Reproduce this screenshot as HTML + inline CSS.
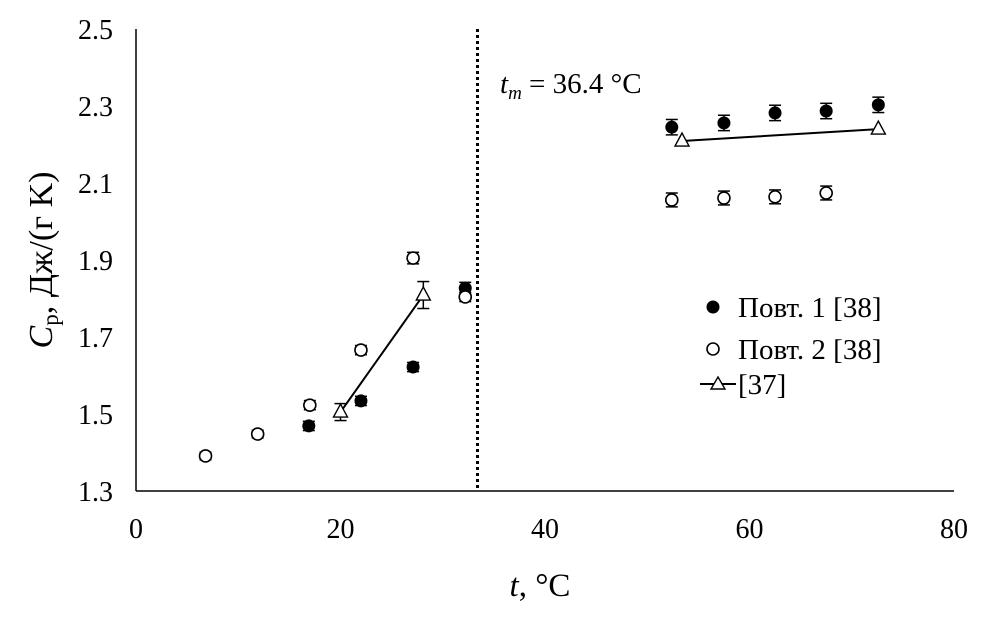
<!DOCTYPE html>
<html><head><meta charset="utf-8"><style>
body{margin:0;background:#fff}
svg{display:block;font-family:"Liberation Serif",serif}
</style></head><body>
<svg id="c" width="998" height="617">
<g id="axes"></g>
<g id="marks"></g>
<text x="500" y="93" font-size="29"><tspan font-style="italic">t</tspan><tspan font-style="italic" font-size="19" dy="6">m</tspan><tspan dy="-6"> = 36.4 °C</tspan></text>
<text x="540" y="596" font-size="33" text-anchor="middle"><tspan font-style="italic">t</tspan>, °C</text>
<text transform="translate(52,260) rotate(-90)" font-size="34" text-anchor="middle"><tspan font-style="italic">C</tspan><tspan font-size="23" dy="6">p</tspan><tspan dy="-6">, Дж/(г K)</tspan></text>
<g>
<circle cx="713" cy="307" r="6.5" fill="#000"/>
<text x="738" y="317" font-size="29">Повт. 1 [38]</text>
<circle cx="713" cy="349" r="6" fill="#fff" stroke="#000" stroke-width="1.6"/>
<text x="738" y="359" font-size="29">Повт. 2 [38]</text>
<line x1="700" y1="384" x2="736" y2="384" stroke="#000" stroke-width="2"/>
<polygon points="718,377 725,389 711,389" fill="#fff" stroke="#000" stroke-width="1.4"/>
<text x="738" y="394" font-size="29">[37]</text>
</g>
</svg>
<script>
const xTicks=[0,20,40,60,80];
const yTicks=[1.3,1.5,1.7,1.9,2.1,2.3,2.5];
const rep1T=[16.9,22.0,27.1,32.2,52.4,57.5,62.5,67.5,72.6];
const rep1V=[1.469,1.534,1.622,1.827,2.245,2.256,2.282,2.287,2.303];
const rep1E=[0.012,0.012,0.012,0.015,0.02,0.02,0.02,0.02,0.02];
const rep2T=[6.8,11.9,17.0,22.0,27.1,32.2,52.4,57.5,62.5,67.5];
const rep2V=[1.391,1.448,1.523,1.666,1.905,1.804,2.056,2.061,2.064,2.074];
const rep2E=[0.01,0.01,0.012,0.012,0.015,0.012,0.018,0.018,0.018,0.018];
const refT=[20.0,28.1];
const refV=[1.505,1.809];
const refE=[0.022,0.035];
const ref2T=[53.4,72.6];
const ref2V=[2.209,2.240];
const meltT=33.4;
const NS="http://www.w3.org/2000/svg";
const X=t=>136+t*10.225;
const Y=v=>29+(2.5-v)*385;
function mk(tag,attrs,parent){const e=document.createElementNS(NS,tag);for(const k in attrs)e.setAttribute(k,attrs[k]);parent.appendChild(e);return e;}
const ax=document.getElementById('axes'),mg=document.getElementById('marks');
let l=mk('line',{x1:136,y1:29,x2:136,y2:491,stroke:'#000','stroke-width':1.5},ax);


l=mk('line',{x1:136,y1:491,x2:954,y2:491,stroke:'#000','stroke-width':1.5},ax);


xTicks.forEach(t=>{const e=mk('text',{x:X(t),y:538,'font-size':28,'text-anchor':'middle'},ax);e.textContent=t;

});
yTicks.forEach(v=>{const e=mk('text',{x:113,y:Y(v)+10,'font-size':28,'text-anchor':'end'},ax);e.textContent=v.toFixed(1);

});
l=mk('line',{x1:X(meltT),y1:29,x2:X(meltT),y2:491,stroke:'#000','stroke-width':3,'stroke-dasharray':'3,3'},ax);


function err(t,v,e){const x=X(t),y1=Y(v+e),y2=Y(v-e);
const g=mk('g',{stroke:'#000','stroke-width':1.5},mg);


mk('line',{x1:x,y1:y1,x2:x,y2:y2},g);mk('line',{x1:x-6,y1:y1,x2:x+6,y2:y1},g);mk('line',{x1:x-6,y1:y2,x2:x+6,y2:y2},g);}
function line(ts,vs,name){const p=mk('line',{x1:X(ts[0]),y1:Y(vs[0]),x2:X(ts[1]),y2:Y(vs[1]),stroke:'#000','stroke-width':2},mg);

}
line(refT,refV,'ref37-line-solid');
line(ref2T,ref2V,'ref37-line-liquid');
rep1T.forEach((t,i)=>{err(t,rep1V[i],rep1E[i]);const c=mk('circle',{cx:X(t),cy:Y(rep1V[i]),r:6.5,fill:'#000'},mg);

});
rep2T.forEach((t,i)=>{err(t,rep2V[i],rep2E[i]);const c=mk('circle',{cx:X(t),cy:Y(rep2V[i]),r:6,fill:'#fff',stroke:'#000','stroke-width':1.6},mg);

});
function tri(t,v){const x=X(t),y=Y(v);const p=mk('polygon',{points:`${x},${y-8} ${x+7},${y+5} ${x-7},${y+5}`,fill:'#fff',stroke:'#000','stroke-width':1.4},mg);

}
refT.forEach((t,i)=>{err(t,refV[i],refE[i]);tri(t,refV[i]);});
ref2T.forEach((t,i)=>tri(t,ref2V[i]));
</script>
</body></html>
